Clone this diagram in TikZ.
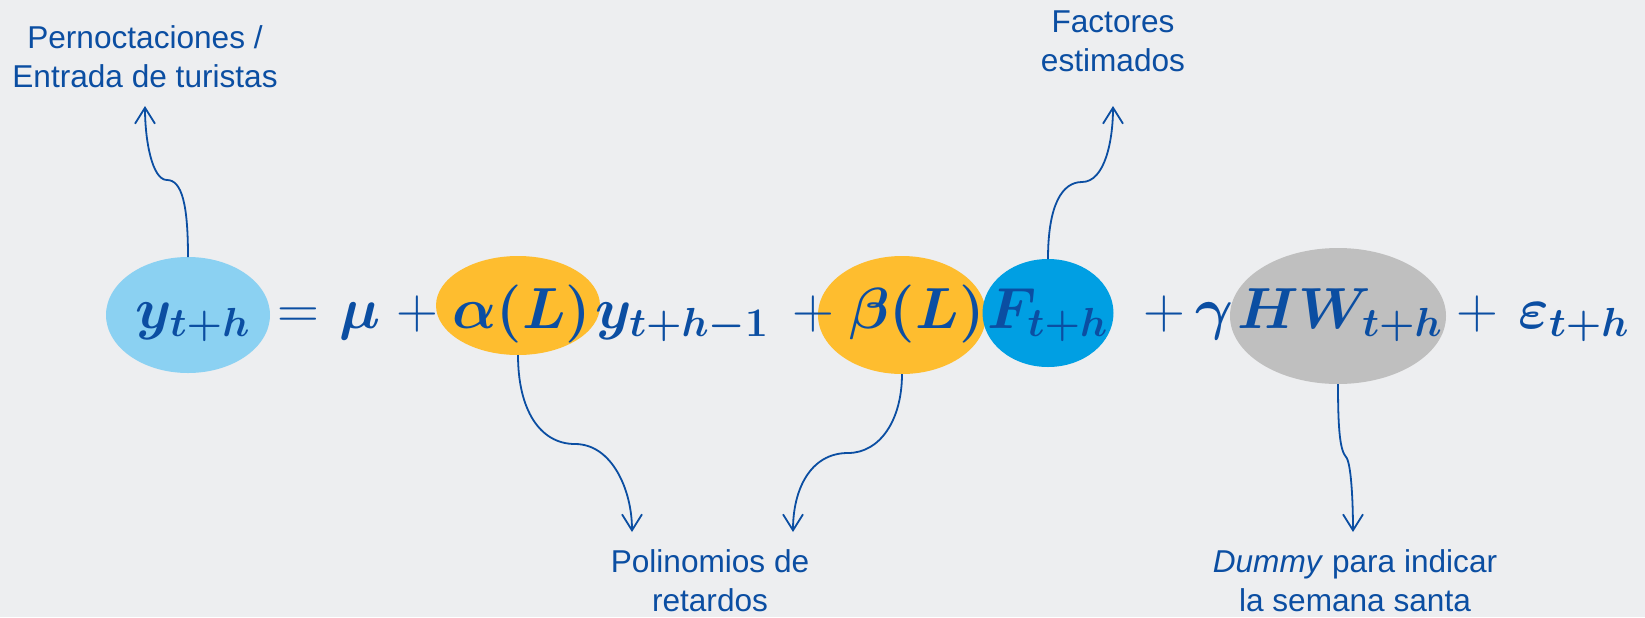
\RequirePackage{fix-cm}
\documentclass[tikz,border=0pt]{standalone}
\usepackage{amsmath,bm}
\usepackage[no-math]{fontspec}
\newfontfamily\labfont{Liberation Sans}
\usetikzlibrary{arrows.meta,shapes.geometric}
\definecolor{ink}{HTML}{0B4EA2}
\definecolor{canvas}{HTML}{EDEEF0}
\definecolor{skyfill}{HTML}{8BD1F2}
\definecolor{lagfill}{HTML}{FEBD2F}
\definecolor{factfill}{HTML}{009FE3}
\definecolor{dummyfill}{HTML}{BFBFBF}
\tikzset{
  blob/.style={ellipse,inner sep=0pt,outer sep=0pt,draw=none},
  term/.style={anchor=base,inner sep=0pt,text=ink,font=\fontsize{29}{35}\selectfont},
  note/.style={anchor=north,align=center,inner sep=0pt,text=ink,
    font=\labfont\fontsize{15.8}{19.5}\selectfont},
  link/.style={-{Straight Barb[length=8pt,width=10pt]},draw=ink,line width=0.9pt}
}

\begin{document}
\begin{tikzpicture}[x=0.5pt,y=-0.5pt]
  \fill[canvas] (0,0) rectangle (1645,617);
  \useasboundingbox (0,0) rectangle (1645,617);

  % shaded terms
  \node[blob,fill=skyfill,minimum width=82pt,minimum height=58pt] (yblob) at (188,315) {};
  \node[blob,fill=lagfill,minimum width=82pt,minimum height=49.5pt] (ablob) at (518,305.5) {};
  \node[blob,fill=lagfill,minimum width=84pt,minimum height=59pt] (bblob) at (902,315) {};
  \node[blob,fill=factfill,minimum width=65.5pt,minimum height=54pt] (fblob) at (1048,313) {};
  \node[blob,fill=dummyfill,minimum width=108pt,minimum height=68pt] (dblob) at (1338,316) {};

  % equation
  \node[term] (yterm) at (193,328) {$\bm{y_{t+h}}$};
  \node[term] (eqsign) at (298,328) {$=$};
  \node[term] (muterm) at (360,328) {$\bm{\mu}$};
  \node[term] (plusa) at (417,328) {$+$};
  \node[term] (aterm) at (522,328) {$\bm{\alpha(L)}$};
  \node[term] (ylag) at (682,328) {$\bm{y_{t+h-1}}$};
  \node[term] (plusb) at (813,328) {$+$};
  \node[term] (bterm) at (917,328) {$\bm{\beta(L)}$};
  \node[term] (fterm) at (1048,328) {$\bm{F_{t+h}}$};
  \node[term] (plusc) at (1164,328) {$+$};
  \node[term] (gterm) at (1214,328) {$\bm{\gamma}$};
  \node[term] (hwterm) at (1340,328) {$\bm{HW_{t+h}}$};
  \node[term] (plusd) at (1477,328) {$+$};
  \node[term] (eterm) at (1574,328) {$\bm{\varepsilon_{t+h}}$};

  % notes
  \node[note] (pernoct) at (145,25) {Pernoctaciones /\\Entrada de turistas};
  \node[note] (factores) at (1113,10) {Factores\\estimados};
  \node[note] (polin) at (710,549) {Polinomios de\\retardos};
  \node[note] (dummy) at (1355,549) {\textit{Dummy} para indicar\\la semana santa};

  \coordinate (tipy) at (145,106);
  \coordinate (tipf) at (1113,106);
  \coordinate (tipa) at (632,532);
  \coordinate (tipb) at (793,532);
  \coordinate (tipd) at (1353,532);

  \draw[link] (yblob.north) .. controls (188,205) and (182,180) .. (167,180)
    .. controls (152,180) and (145,140) .. (tipy);
  \draw[link] (fblob.north) .. controls (1048,205) and (1062,182) .. (1082,182)
    .. controls (1105,182) and (1113,140) .. (tipf);
  \draw[link] (ablob.south) .. controls (518,410) and (540,444) .. (575,444)
    .. controls (612,444) and (632,490) .. (tipa);
  \draw[link] (bblob.south) .. controls (902,420) and (880,453) .. (848,453)
    .. controls (810,453) and (793,490) .. (tipb);
  \draw[link] (dblob.south) .. controls (1338,430) and (1340,450) .. (1346,457)
    .. controls (1351,462) and (1353,500) .. (tipd);
\end{tikzpicture}
\end{document}
